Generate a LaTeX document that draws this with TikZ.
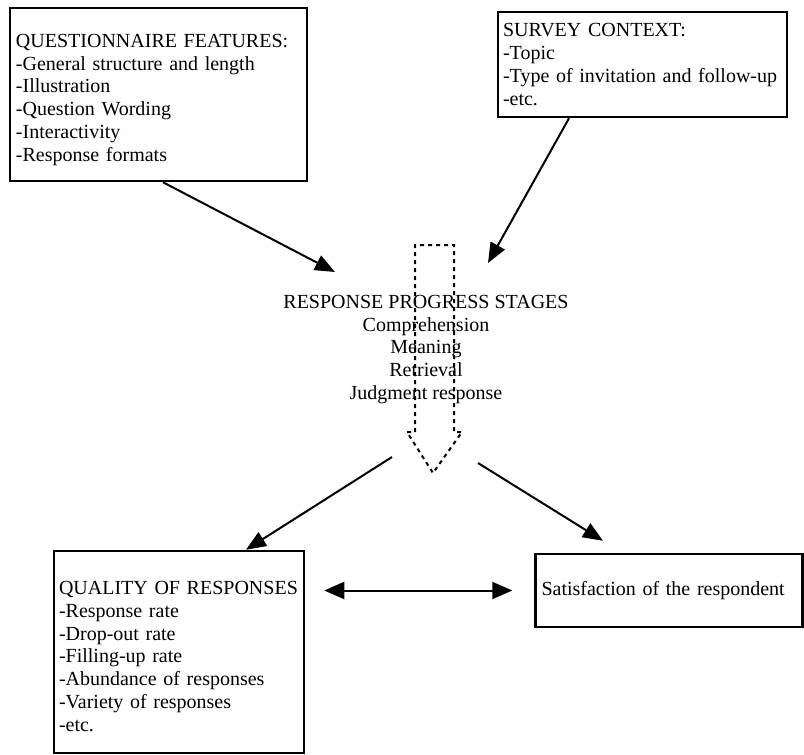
\documentclass[tikz,border=0pt]{standalone}
\usepackage{fontspec}
\setmainfont{Liberation Serif}
\usetikzlibrary{arrows.meta}

\begin{document}
\begin{tikzpicture}[x=1pt,y=-1pt,
  font=\fontsize{20}{22.8}\selectfont,
  box/.style={draw,line width=2.5pt,align=left,inner ysep=0pt,
    execute at begin node={\hyphenpenalty=10000\exhyphenpenalty=10000}},
  link/.style={line width=2pt,-{Triangle[length=20pt,width=16pt]}},
  twoway/.style={line width=2pt,{Triangle[length=20pt,width=17pt]}-{Triangle[length=20pt,width=17pt]}},
  flow/.style={line width=2pt,dash pattern=on 4pt off 4pt}]
  \useasboundingbox (0,0) rectangle (804,755);

  % 1. The two input boxes
  \node[box,inner xsep=6pt,text width=285pt,minimum height=173pt] (qf) at (158.5,94.5)
    {\rule{0pt}{24pt}QUESTIONNAIRE FEATURES:\\-General structure and length\\-Illustration\\-Question Wording\\-Interactivity\\-Response formats};
  \node[box,inner xsep=5pt,text width=279pt,minimum height=105pt] (sc) at (642.5,64.5)
    {SURVEY CONTEXT:\\-Topic\\-Type of invitation and follow-up\\-etc.};

  % 2. The dashed stage arrow, with the stages written over it
  \draw[flow] (415,432) -- (415,245) -- (454,245) -- (454,432) -- (462,432)
    -- (433,473) -- (407,432) -- cycle;
  \node[align=center] (stg) at (426,349.5)
    {RESPONSE PROGRESS STAGES\\Comprehension\\Meaning\\Retrieval\\Judgment response};

  % 3. The two outcome boxes
  \node[box,inner xsep=5pt,text width=240pt,minimum height=202pt] (qr) at (179,652)
    {\rule{0pt}{22pt}QUALITY OF RESPONSES\\-Response rate\\-Drop-out rate\\-Filling-up rate\\-Abundance of responses\\-Variety of responses\\-etc.};
  \node[box,inner xsep=6pt,text width=255pt,minimum height=73pt] (sat) at (669,590.5)
    {Satisfaction of the respondent};

  % 4. Arrows in and out of the stages
  \coordinate (inL) at (335,272);
  \coordinate (inR) at (488,263);
  \coordinate (outL) at (392,457);
  \coordinate (outR) at (478,463);
  \draw[link] ([xshift=4.5pt]qf.south) -- (inL);
  \draw[link] ([xshift=-73.5pt]sc.south) -- (inR);
  \draw[link] (outL) -- ([xshift=67pt]qr.north);
  \draw[link] (outR) -- ([xshift=-66pt,yshift=12pt]sat.north);
  \draw[twoway,shorten <=19pt,shorten >=22pt] (qr.east |- sat.west) -- (sat.west);
\end{tikzpicture}
\end{document}
